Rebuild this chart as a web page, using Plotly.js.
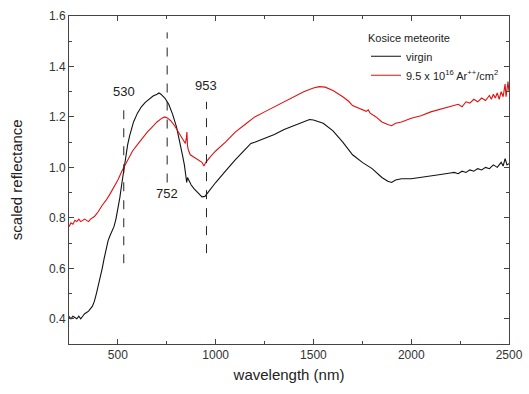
<!DOCTYPE html>
<html><head><meta charset="utf-8">
<script src="https://cdn.plot.ly/plotly-3.0.1.min.js"></script>
<style>html,body{margin:0;padding:0;background:#fff}</style>
</head><body><div id="chart" style="width:529px;height:394px"></div>
<script>
const virginX = [250,260,270,280,290,300,310,320,330,340,350,360,370,375,380,390,400,410,420,430,440,450,460,470,480,490,500,510,520,530,540,550,560,570,580,600,620,640,660,680,700,710,720,740,760,780,800,815,830,840,848,852,856,862,875,890,910,930,945,960,980,1000,1050,1100,1150,1180,1200,1250,1300,1350,1400,1450,1480,1500,1550,1600,1650,1700,1750,1800,1850,1880,1900,1920,1950,2000,2050,2100,2150,2200,2220,2240,2260,2280,2300,2320,2340,2360,2380,2400,2420,2440,2460,2470,2480,2490,2500];
const virginY = [0.41,0.40,0.41,0.405,0.40,0.41,0.40,0.41,0.42,0.425,0.43,0.44,0.45,0.46,0.47,0.50,0.53,0.565,0.60,0.64,0.68,0.71,0.73,0.745,0.765,0.795,0.835,0.88,0.935,0.99,1.045,1.09,1.125,1.155,1.18,1.215,1.24,1.258,1.272,1.283,1.29,1.295,1.29,1.275,1.25,1.21,1.16,1.11,1.05,1.01,0.97,0.94,0.96,0.95,0.93,0.915,0.90,0.883,0.885,0.90,0.92,0.94,0.985,1.03,1.07,1.095,1.10,1.115,1.13,1.15,1.165,1.18,1.19,1.188,1.175,1.145,1.10,1.05,1.02,0.995,0.96,0.945,0.94,0.95,0.955,0.955,0.96,0.965,0.972,0.978,0.98,0.975,0.985,0.98,0.99,0.985,0.995,0.99,1.0,0.995,1.01,1.0,1.02,1.005,1.035,1.01,1.015];
const irradX = [250,260,270,280,290,300,310,320,330,340,350,360,370,380,390,400,420,440,460,480,500,520,530,550,575,600,625,650,675,700,725,740,755,770,790,810,830,845,850,853,856,860,870,890,910,930,940,950,970,1000,1050,1100,1150,1200,1250,1300,1350,1400,1450,1500,1530,1560,1600,1650,1680,1700,1740,1770,1780,1790,1820,1850,1880,1900,1920,1950,2000,2050,2100,2150,2200,2220,2240,2260,2280,2300,2320,2340,2360,2380,2400,2410,2420,2430,2440,2450,2460,2470,2480,2485,2490,2495,2500];
const irradY = [0.765,0.78,0.775,0.79,0.785,0.795,0.785,0.79,0.795,0.79,0.785,0.795,0.80,0.805,0.815,0.825,0.85,0.87,0.895,0.92,0.95,0.985,1.0,1.03,1.065,1.09,1.115,1.14,1.16,1.18,1.195,1.20,1.195,1.185,1.165,1.14,1.115,1.095,1.115,1.14,1.085,1.07,1.05,1.04,1.03,1.02,1.005,1.02,1.04,1.065,1.10,1.14,1.17,1.20,1.22,1.24,1.26,1.28,1.30,1.315,1.32,1.318,1.305,1.28,1.262,1.245,1.23,1.222,1.228,1.215,1.20,1.18,1.17,1.165,1.175,1.18,1.195,1.205,1.22,1.23,1.24,1.245,1.25,1.24,1.26,1.255,1.27,1.26,1.275,1.265,1.285,1.27,1.29,1.275,1.295,1.27,1.30,1.28,1.33,1.28,1.31,1.34,1.30];
const seriesNames = ["virgin", "9.5 x 10<sup>16</sup> Ar<sup>++</sup>/cm<sup>2</sup>"];
const markX = [530, 752, 953];
const markY0 = [0.62, 0.94, 0.66];
const markY1 = [1.25, 1.535, 1.26];
const markLabelY = [1.30, 0.895, 1.325];

const font = "Liberation Sans, Arial, sans-serif";
const traces = [
  {x: virginX, y: virginY, name: seriesNames[0], type: 'scatter', mode: 'lines', line: {color: '#111', width: 1.1}},
  {x: irradX, y: irradY, name: seriesNames[1], type: 'scatter', mode: 'lines', line: {color: '#e31010', width: 1.1}}
];
const shapes = markX.map((m, i) => ({type: 'line', xref: 'x', yref: 'y', x0: m, x1: m, y0: markY0[i], y1: markY1[i], line: {color: '#222', width: 1, dash: 'dash'}}));
const annotations = markX.map((m, i) => ({x: m, y: markLabelY[i], xref: 'x', yref: 'y', text: String(m), showarrow: false, font: {family: font, size: 13, color: '#222'}}));
annotations.push({xref: 'paper', yref: 'paper', x: -0.12, y: 0.5, xanchor: 'center', yanchor: 'middle', text: 'scaled reflectance', textangle: -90, showarrow: false, font: {family: font, size: 15, color: '#222'}});
const axisCommon = {showline: true, linecolor: '#444', linewidth: 1, mirror: 'ticks', ticks: 'inside', ticklen: 5, tickcolor: '#444', showgrid: false, zeroline: false, tickfont: {family: font, size: 12, color: '#333'}};
const layout = {
  width: 529, height: 394,
  margin: {l: 69, r: 20, t: 16, b: 50},
  paper_bgcolor: '#fff', plot_bgcolor: '#fff',
  font: {family: font},
  showlegend: true,
  legend: {x: 0.675, y: 0.965, xanchor: 'left', yanchor: 'top', bgcolor: 'rgba(0,0,0,0)', font: {family: font, size: 11, color: '#222'}, title: {text: 'Kosice meteorite', font: {family: font, size: 11, color: '#222'}}, tracegroupgap: 0, itemwidth: 30},
  xaxis: Object.assign({}, axisCommon, {range: [250, 2500], tickvals: [500, 1000, 1500, 2000, 2500], minor: {tickvals: [750, 1250, 1750, 2250], ticks: 'inside', ticklen: 3, tickcolor: '#444'}, title: {text: 'wavelength (nm)', font: {family: font, size: 15, color: '#222'}, standoff: 8}}),
  yaxis: Object.assign({}, axisCommon, {range: [0.3, 1.6], tickvals: [0.4, 0.6, 0.8, 1.0, 1.2, 1.4, 1.6], tickformat: '.1f', minor: {tickvals: [0.5, 0.7, 0.9, 1.1, 1.3, 1.5], ticks: 'inside', ticklen: 3, tickcolor: '#444'}}),
  shapes: shapes,
  annotations: annotations
};
Plotly.newPlot('chart', traces, layout, {displayModeBar: false, staticPlot: true});
</script></body></html>
